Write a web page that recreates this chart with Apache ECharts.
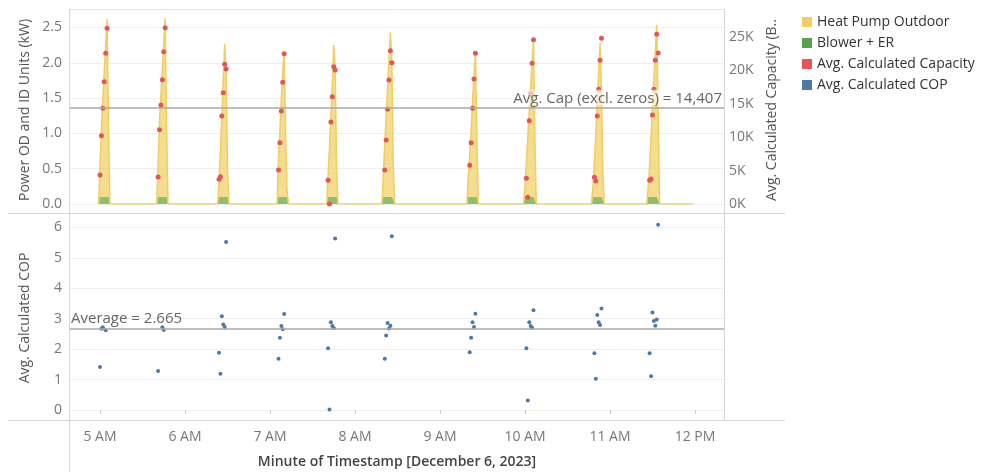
<!DOCTYPE html>
<html>
<head>
<meta charset="utf-8">
<script src="https://cdn.jsdelivr.net/npm/echarts@6/dist/echarts.min.js"></script>
<style>
  html, body { margin: 0; padding: 0; background: #fff; }
  #chart { width: 989px; height: 472px; }
</style>
</head>
<body>
<div id="chart"></div>
<script>
// Heat pump cycling on December 6, 2023, one reading per minute.
// Minutes are counted from midnight (300 = 5:00 AM).

// Power draw per cycle (kW), starting at cycleStart[i] and one value per minute.
const cycleStart = [299, 340, 383, 425, 460, 499, 559, 599, 647, 686];
const heatPumpKW = [
  [0, 0.45, 1.00, 1.40, 1.78, 2.15, 2.52, 1.00, 0],
  [0, 0.45, 1.08, 1.45, 1.82, 2.20, 2.53, 1.00, 0],
  [0, 0.20, 0.65, 1.15, 1.67, 2.17, 1.80, 0.40, 0],
  [0, 0.55, 0.95, 1.38, 1.78, 2.04, 0.90, 0.10, 0],
  [0, 0.30, 0.70, 1.15, 1.60, 2.15, 1.85, 0.40, 0],
  [0, 0.30, 0.75, 1.15, 1.55, 1.95, 2.33, 1.90, 0.50, 0],
  [0, 0.30, 0.60, 0.95, 1.35, 1.72, 2.05, 0.90, 0],
  [0, 0.15, 0.50, 0.85, 1.20, 1.55, 1.90, 2.23, 0.80, 0],
  [0, 0.15, 0.50, 0.90, 1.35, 1.75, 2.18, 1.50, 0.30, 0],
  [0, 0.15, 0.45, 0.85, 1.25, 1.65, 2.05, 2.44, 1.20, 0]
];
const blowerKW = [
  [0, 0.1, 0.1, 0.1, 0.1, 0.1, 0.1, 0.1, 0],
  [0, 0.1, 0.1, 0.1, 0.1, 0.1, 0.1, 0.1, 0],
  [0, 0.1, 0.1, 0.1, 0.1, 0.1, 0.1, 0.1, 0],
  [0, 0.1, 0.1, 0.1, 0.1, 0.1, 0.1, 0.1, 0],
  [0, 0.1, 0.1, 0.1, 0.1, 0.1, 0.1, 0.1, 0],
  [0, 0.1, 0.1, 0.1, 0.1, 0.1, 0.1, 0.1, 0.1, 0],
  [0, 0.1, 0.1, 0.1, 0.1, 0.1, 0.1, 0.1, 0],
  [0, 0.1, 0.1, 0.1, 0.1, 0.1, 0.1, 0.1, 0.1, 0],
  [0, 0.1, 0.1, 0.1, 0.1, 0.1, 0.1, 0.1, 0.1, 0],
  [0, 0.1, 0.1, 0.1, 0.1, 0.1, 0.1, 0.1, 0.1, 0]
];
// Last logged minute (power stays at zero after the final cycle).
const recordEnd = 719;

// Calculated capacity (BTU/h) and COP per cycle, starting at capStart[i].
const capStart = [300, 341, 384, 426, 461, 501, 561, 601, 649, 688];
const capacityBtu = [
  [4340, 10220, 14330, 18310, 22560, 26300],
  [4040, 11120, 14820, 18610, 22800, 26390],
  [3700, 4090, 13170, 16660, 20910, 20210],
  [5090, 9180, 13920, 18220, 22500],
  [3550, 0, 12280, 16060, 20550, 20060],
  [5090, 9580, 14180, 18560, 22950, 21150],
  [5790, 9180, 14330, 18710, 22560],
  [3850, 1000, 12470, 16570, 21060, 24600],
  [4000, 3440, 13170, 17170, 21510, 24810],
  [3550, 3740, 13320, 17170, 21510, 25400, 22600]
];
const copValues = [
  [1.41, 2.67, 2.72, null, 2.62, null],
  [1.28, null, null, 2.72, 2.63, null],
  [1.88, 1.19, 3.08, 2.81, 2.73, 5.52],
  [1.68, 2.37, 2.76, 2.65, 3.15],
  [2.03, 0.02, 2.88, 2.76, 2.69, 5.63],
  [1.68, 2.45, 2.86, 2.68, 2.77, 5.71],
  [1.90, 2.37, 2.88, 2.73, 3.16],
  [2.03, 0.31, 2.88, 2.76, 2.70, 3.28],
  [1.86, 1.03, 3.12, 2.88, 2.79, 3.33],
  [1.86, 1.11, 3.20, 2.92, 2.77, 2.97, 6.08]
];

// Reference lines
const avgCapacity = 14407;
const avgCop = 2.665;

// Hour ticks on the time axis
const hourTicks = [300, 360, 420, 480, 540, 600, 660, 720];
const hourLabels = ['5 AM', '6 AM', '7 AM', '8 AM', '9 AM', '10 AM', '11 AM', '12 PM'];

// ---- build series data ----
// Stacked areas: blower at the bottom, heat pump on top of it.
function cycleSeries(layers) {
  const out = [];
  cycleStart.forEach((start, i) => {
    layers[0][i].forEach((_, j) => {
      let sum = 0;
      layers.forEach(layer => { sum += layer[i][j]; });
      out.push([start + j, +sum.toFixed(3)]);
    });
  });
  out.push([recordEnd, 0]);
  return out;
}
function pointSeries(values) {
  const out = [];
  values.forEach((arr, i) => arr.forEach((v, j) => { if (v !== null) out.push([capStart[i] + j, v]); }));
  return out;
}

const FONT = '"Open Sans", "Noto Sans", sans-serif';
const C_YELLOW = '#f1ce63';
const C_GREEN = '#59a14f';
const C_RED = '#e15759';
const C_BLUE = '#4e79a7';
const GRID_LINE = '#eeeeee';
const DIVIDER = '#d6d6d6';
const TICK_TEXT = '#777';

const chart = echarts.init(document.getElementById('chart'), null, { renderer: 'canvas' });

const xBase = {
  type: 'value', min: 278.1, max: 740.5,
  splitLine: { show: false }, axisLine: { show: false }, axisTick: { show: false }
};

function hline(x1, x2, y, color) {
  return { type: 'line', silent: true, z: 50,
    shape: { x1: x1, y1: y + 0.5, x2: x2, y2: y + 0.5 },
    style: { stroke: color, lineWidth: 1 } };
}
function vline(x, y1, y2, color) {
  return { type: 'line', silent: true, z: 50,
    shape: { x1: x + 0.5, y1: y1, x2: x + 0.5, y2: y2 },
    style: { stroke: color, lineWidth: 1 } };
}
function vtitle(text, x, y) {
  return { type: 'text', silent: true, x: x, y: y, rotation: Math.PI / 2,
    style: { text: text, font: '14px ' + FONT, fill: '#555', align: 'center', verticalAlign: 'middle' } };
}

const option = {
  animation: false,
  textStyle: { fontFamily: FONT },
  grid: [
    { left: 69, right: 265, top: 9, height: 195 },
    { left: 69, right: 265, top: 213, height: 197 }
  ],
  legend: {
    orient: 'vertical', left: 797, top: 10,
    icon: 'rect', itemWidth: 10, itemHeight: 10, itemGap: 7,
    selectedMode: false,
    textStyle: { fontFamily: FONT, fontSize: 14, color: '#333', lineHeight: 14 },
    data: ['Heat Pump Outdoor', 'Blower + ER', 'Avg. Calculated Capacity', 'Avg. Calculated COP']
  },
  xAxis: [
    Object.assign({ gridIndex: 0, axisLabel: { show: false } }, xBase),
    Object.assign({}, xBase, {
      gridIndex: 1, offset: 10,
      axisTick: { show: true, customValues: hourTicks, length: 4, lineStyle: { color: '#ccc' } },
      axisLabel: {
        customValues: hourTicks, margin: 10, fontSize: 14, color: TICK_TEXT,
        formatter: v => hourLabels[hourTicks.indexOf(v)]
      }
    })
  ],
  yAxis: [
    { gridIndex: 0, type: 'value', min: 0, max: 2.762, interval: 0.5, position: 'left',
      axisLine: { show: false }, axisTick: { show: false },
      splitLine: { lineStyle: { color: GRID_LINE } },
      axisLabel: { showMaxLabel: false, margin: 7, fontSize: 14, color: TICK_TEXT,
        formatter: v => v.toFixed(1) } },
    { gridIndex: 0, type: 'value', min: 0, max: 29190, interval: 5000, position: 'right',
      axisLine: { show: false }, axisTick: { show: false }, splitLine: { show: false },
      axisLabel: { showMaxLabel: false, margin: 5, fontSize: 14, color: TICK_TEXT,
        formatter: v => (v / 1000) + 'K' } },
    { gridIndex: 1, type: 'value', min: 0, max: 6.47, interval: 1, position: 'left',
      axisLine: { show: false }, axisTick: { show: false },
      splitLine: { lineStyle: { color: GRID_LINE } },
      axisLabel: { showMaxLabel: false, margin: 7, fontSize: 14, color: TICK_TEXT } }
  ],
  series: [
    {
      name: 'Heat Pump Outdoor', type: 'line', xAxisIndex: 0, yAxisIndex: 0,
      data: cycleSeries([blowerKW, heatPumpKW]), showSymbol: false, symbol: 'none', z: 2,
      itemStyle: { color: C_YELLOW },
      lineStyle: { color: C_YELLOW, width: 1.5 },
      areaStyle: { color: C_YELLOW, opacity: 0.72 }
    },
    {
      name: 'Blower + ER', type: 'line', xAxisIndex: 0, yAxisIndex: 0,
      data: cycleSeries([blowerKW]), showSymbol: false, symbol: 'none', z: 2,
      itemStyle: { color: C_GREEN },
      lineStyle: { width: 0 },
      areaStyle: { color: '#6cb65f', opacity: 0.75 }
    },
    {
      name: 'Avg. Calculated Capacity', type: 'scatter', xAxisIndex: 0, yAxisIndex: 1,
      data: pointSeries(capacityBtu), symbolSize: 5, z: 3,
      itemStyle: { color: C_RED, opacity: 1 },
      markLine: {
        silent: true, symbol: 'none', z: 4,
        lineStyle: { color: '#a8a8a8', width: 1.5, type: 'solid' },
        label: {
          position: 'insideEndTop', distance: 2,
          fontFamily: FONT, fontSize: 15, color: '#666',
          backgroundColor: 'rgba(255,255,255,0.6)', padding: [1, 0, 0, 2],
          formatter: () => 'Avg. Cap (excl. zeros) = ' + avgCapacity.toLocaleString('en-US')
        },
        data: [{ yAxis: avgCapacity }]
      }
    },
    {
      name: 'Avg. Calculated COP', type: 'scatter', xAxisIndex: 1, yAxisIndex: 2,
      data: pointSeries(copValues), symbolSize: 4, z: 3,
      itemStyle: { color: C_BLUE, opacity: 1 },
      markLine: {
        silent: true, symbol: 'none',
        lineStyle: { color: '#a8a8a8', width: 1.5, type: 'solid' },
        label: {
          position: 'insideStartTop', distance: 2,
          fontFamily: FONT, fontSize: 15, color: '#666',
          formatter: () => 'Average = ' + avgCop
        },
        data: [{ yAxis: avgCop }]
      }
    }
  ],
  graphic: [
    hline(69, 724, 9, '#e4e4e4'),
    hline(8, 785, 213, DIVIDER),
    hline(8, 785, 420, DIVIDER),
    vline(69, 9, 472, DIVIDER),
    vline(724, 9, 420, DIVIDER),
    vtitle('Power OD and ID Units (kW)', 25, 110),
    vtitle('Avg. Calculated COP', 25, 318),
    vtitle('Avg. Calculated Capacity (B..', 772, 110),
    { type: 'text', silent: true, x: 397, y: 462,
      style: { text: 'Minute of Timestamp [December 6, 2023]', font: '600 14px ' + FONT,
        fill: '#444', align: 'center', verticalAlign: 'middle' } }
  ]
};

chart.setOption(option);
</script>
</body>
</html>
